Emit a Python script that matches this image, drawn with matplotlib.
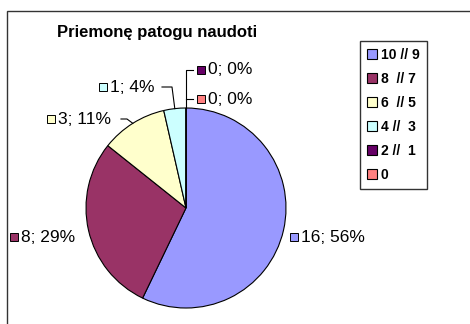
import numpy as np
import matplotlib.pyplot as plt
from matplotlib.patches import Rectangle

plt.rcParams['font.family'] = ['Liberation Sans', 'DejaVu Sans']

# apklausos duomenys
categories = ['10 // 9', '8  // 7', '6  // 5', '4 //  3', '2 //  1', '0']
counts = [16, 8, 3, 1, 0, 0]
percents = ['56%', '29%', '11%', '4%', '0%', '0%']
colors = ['#9999FF', '#993366', '#FFFFCC', '#CCFFFF', '#660066', '#FF8080']

W, H = 470, 324
fig = plt.figure(figsize=(W / 100, H / 100), dpi=100)
ax = fig.add_axes([0, 0, 1, 1])

def py(y):
    # pikseliai nuo virsaus -> asies koordinates
    return H - y

cx, cy, R = 186, py(208), 100
wedges, _ = ax.pie(counts, colors=colors, startangle=90, counterclock=False,
                   radius=R, center=(cx, cy),
                   wedgeprops=dict(edgecolor='black', linewidth=0.8))

ax.set_xlim(0, W)
ax.set_ylim(0, H)
ax.set_aspect('equal')
ax.axis('off')

# remelis aplink diagrama
ax.add_patch(Rectangle((7, py(H + 20)), W + 20, H + 9, fill=False,
                       edgecolor='#333333', linewidth=1, clip_on=False))

fig.text(57 / W, 1 - 33 / H, 'Priemonę patogu naudoti', fontsize=12,
         fontweight='bold', va='center', ha='left')

def edge_point(w):
    a = np.deg2rad((w.theta1 + w.theta2) / 2)
    return cx + R * np.cos(a), cy + R * np.sin(a)

# duomenu etiketes: (zymeklio x, y centras)
label_pos = [(290, 237), (10, 237), (47, 119), (99, 87), (197, 70), (197, 99)]
for i, (mx, my) in enumerate(label_pos):
    ax.add_patch(Rectangle((mx, py(my) - 4), 8, 8, facecolor=colors[i],
                           edgecolor='black', linewidth=0.7))
    ax.text(mx + 11, py(my), f'{counts[i]}; {percents[i]}', fontsize=12.5,
            va='center', ha='left')

# linijos nuo etikeciu iki pyrago
lw = 0.8
ex, ey = edge_point(wedges[2])
ax.plot([121, 127, ex], [py(119), py(119), ey], color='black', lw=lw)
ex, ey = edge_point(wedges[3])
ax.plot([162, 172, ex], [py(87), py(87), ey], color='black', lw=lw)
ex, ey = edge_point(wedges[4])
ax.plot([193, ex, ex], [py(70), py(70), ey], color='black', lw=lw)
ax.plot([193, ex], [py(99), py(99)], color='black', lw=lw)

leg = ax.legend(wedges, categories, loc='upper left',
                bbox_to_anchor=(360 / W, 1 - 41 / H), bbox_transform=fig.transFigure,
                prop=dict(size=10, weight='bold'), frameon=True, fancybox=False,
                handlelength=0.7, handleheight=0.7, handletextpad=0.3,
                labelspacing=0.72, borderpad=0.5, borderaxespad=0)
leg.get_frame().set_edgecolor('black')
leg.get_frame().set_linewidth(1)

fig.savefig('out.png', dpi=100)
